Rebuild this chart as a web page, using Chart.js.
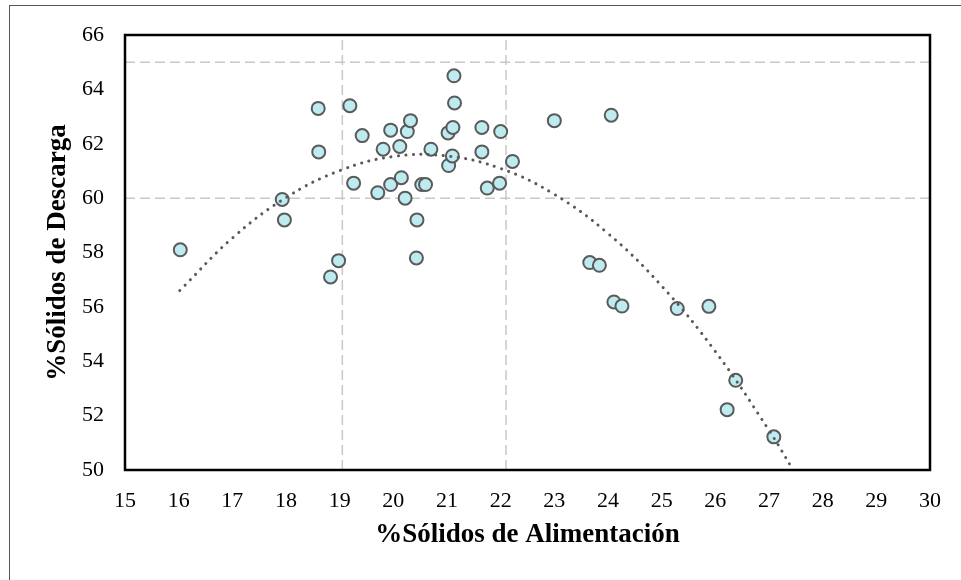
<!DOCTYPE html>
<html lang="es">
<head>
<meta charset="utf-8">
<title>%Sólidos de Descarga vs %Sólidos de Alimentación</title>
<script src="https://cdn.jsdelivr.net/npm/chart.js@4/dist/chart.umd.min.js"></script>
<style>
	html, body { margin: 0; padding: 0; background: #fff; }
	#wrap { position: relative; width: 961px; height: 580px; overflow: hidden; }
	#frame {
		position: absolute; left: 9px; top: 5px; width: 1000px; height: 640px;
		border: 1px solid #555; box-sizing: border-box;
	}
	#chart { position: absolute; left: 0; top: 0; }
</style>
</head>
<body>
<div id="wrap">
	<div id="frame"></div>
	<canvas id="chart" width="961" height="580"></canvas>
</div>
<script>
// Feed solids (%) and discharge solids (%) for each sample
const feedSolids = [
	16.03, 17.93, 17.97, 18.60, 18.61, 18.83, 18.98, 19.19, 19.42, 19.26,
	19.71, 19.81, 19.95, 19.95, 20.12, 20.15, 20.22, 20.26, 20.32, 20.43,
	20.44, 20.53, 20.60, 20.70, 21.02, 21.03, 21.10, 21.11, 21.13, 21.14,
	21.65, 21.65, 21.75, 21.98, 22.00, 22.22, 23.00, 24.06, 23.66, 23.84,
	24.11, 24.26, 25.29, 25.88, 26.38, 26.22, 27.09,
];
const dischargeSolids = [
	58.10, 59.95, 59.20, 63.30, 61.70, 57.10, 57.70, 63.40, 62.30, 60.55,
	60.20, 61.80, 62.50, 60.50, 61.90, 60.75, 60.00, 62.45, 62.85, 57.80,
	59.20, 60.50, 60.50, 61.80, 62.40, 61.20, 61.55, 62.60, 64.50, 63.50,
	62.60, 61.70, 60.37, 60.55, 62.45, 61.35, 62.85, 63.05, 57.63, 57.53,
	56.18, 56.03, 55.94, 56.02, 53.30, 52.22, 51.22,
];

// Polynomial trend line (order 2)
const trendX = [16.02, 17, 18, 19, 20, 21, 22, 23, 24, 25, 26, 27, 27.45];
const trendY = [56.6, 58.53, 60.02, 61.01, 61.53, 61.55, 61.09, 60.14, 58.7, 56.77, 54.36, 51.46, 50.0];

// Dashed reference limits
const refFeed = [19.05, 22.1];
const refDischarge = [60, 65];

const xMin = 15, xMax = 30, xStep = 1;
const yMin = 50, yMax = 66, yStep = 2;

const toPoints = (xs, ys) => xs.map((x, i) => ({x, y: ys[i]}));

const refStyle = {
	showLine: true,
	borderColor: '#c8c8c8',
	borderWidth: 1.5,
	borderDash: [10, 5],
	pointRadius: 0,
	fill: false,
};

const datasets = [
	{
		label: 'Tendencia',
		data: toPoints(trendX, trendY),
		showLine: true,
		borderColor: '#595959',
		borderWidth: 3,
		borderDash: [0.1, 7.4],
		borderCapStyle: 'round',
		pointRadius: 0,
		tension: 0.4,
		fill: false,
		order: 0,
	},
	{
		label: 'Muestras',
		data: toPoints(feedSolids, dischargeSolids),
		backgroundColor: '#bdebf0',
		borderColor: '#5a5a5a',
		borderWidth: 2,
		pointRadius: 6.5,
		order: 1,
	},
];
for (const x of refFeed) {
	datasets.push({...refStyle, label: `x=${x}`, data: [{x, y: yMin}, {x, y: yMax}], order: 2});
}
for (const y of refDischarge) {
	datasets.push({...refStyle, label: `y=${y}`, data: [{x: xMin, y}, {x: xMax, y}], order: 2});
}

// Closed box round the plot area
const plotFrame = {
	id: 'plotFrame',
	afterDraw(chart) {
		const {ctx, chartArea: a} = chart;
		ctx.save();
		ctx.strokeStyle = '#000';
		ctx.lineWidth = 2.5;
		ctx.strokeRect(a.left, a.top, a.right - a.left, a.bottom - a.top);
		ctx.restore();
	},
};

const tickFont = {family: '"Liberation Serif", "Times New Roman", serif', size: 22};
const titleFont = {family: '"Liberation Serif", "Times New Roman", serif', size: 27, weight: 'bold'};

new Chart(document.querySelector('#chart'), {
	type: 'scatter',
	data: {datasets},
	plugins: [plotFrame],
	options: {
		responsive: false,
		animation: false,
		events: [],
		layout: {padding: {left: 0, top: 35, right: 31, bottom: 0}},
		plugins: {legend: {display: false}, tooltip: {enabled: false}},
		scales: {
			x: {
				type: 'linear',
				min: xMin,
				max: xMax,
				grid: {display: false, drawTicks: false},
				border: {display: false},
				ticks: {stepSize: xStep, color: '#000', font: tickFont, padding: 18},
				title: {
					display: true,
					text: '%Sólidos de Alimentación',
					color: '#000',
					font: titleFont,
					padding: {top: 4, bottom: 29},
				},
				afterFit: (scale) => { scale.height = 110; },
			},
			y: {
				type: 'linear',
				min: yMin,
				max: yMax,
				grid: {display: false, drawTicks: false},
				border: {display: false},
				ticks: {stepSize: yStep, color: '#000', font: tickFont, padding: 21},
				title: {
					display: true,
					text: '%Sólidos de Descarga',
					color: '#000',
					font: titleFont,
					padding: {top: 42, bottom: 0},
				},
				afterFit: (scale) => { scale.width = 125; },
			},
		},
	},
});
</script>
</body>
</html>
